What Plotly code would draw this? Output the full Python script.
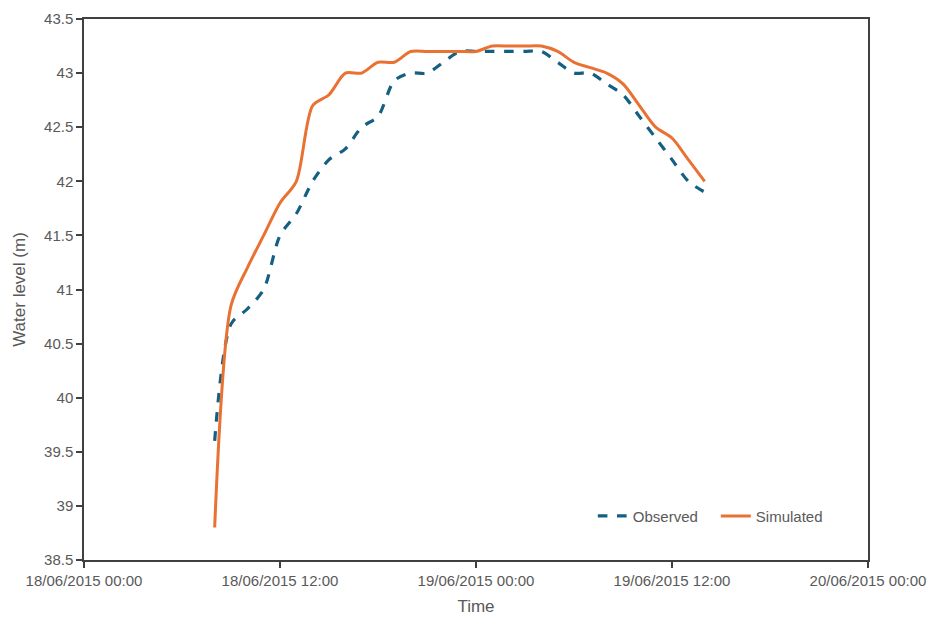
import plotly.graph_objects as go

times = [
    "2015-06-18 08:00", "2015-06-18 09:00", "2015-06-18 10:00", "2015-06-18 11:00",
    "2015-06-18 12:00", "2015-06-18 13:00", "2015-06-18 14:00", "2015-06-18 15:00",
    "2015-06-18 16:00", "2015-06-18 17:00", "2015-06-18 18:00", "2015-06-18 19:00",
    "2015-06-18 20:00", "2015-06-18 21:00", "2015-06-18 22:00", "2015-06-18 23:00",
    "2015-06-19 00:00", "2015-06-19 01:00", "2015-06-19 02:00", "2015-06-19 03:00",
    "2015-06-19 04:00", "2015-06-19 05:00", "2015-06-19 06:00", "2015-06-19 07:00",
    "2015-06-19 08:00", "2015-06-19 09:00", "2015-06-19 10:00", "2015-06-19 11:00",
    "2015-06-19 12:00", "2015-06-19 13:00", "2015-06-19 14:00",
]

observed = [39.6, 40.68, 40.82, 41.0, 41.5, 41.7, 42.0, 42.2, 42.3, 42.5, 42.6,
            42.93, 43.0, 43.0, 43.1, 43.2, 43.2, 43.2, 43.2, 43.2, 43.2, 43.1,
            43.0, 43.0, 42.9, 42.8, 42.6, 42.4, 42.2, 42.0, 41.9]

simulated = [38.8, 40.85, 41.2, 41.5, 41.8, 42.0, 42.7, 42.8, 43.0, 43.0, 43.1,
             43.1, 43.2, 43.2, 43.2, 43.2, 43.2, 43.25, 43.25, 43.25, 43.25, 43.2,
             43.1, 43.05, 43.0, 42.9, 42.7, 42.5, 42.4, 42.2, 42.0]

FONT = "Liberation Sans"
GRAY = "#595959"
AXIS = "#404040"

fig = go.Figure()
fig.add_trace(go.Scatter(
    x=times, y=observed, name="Observed", mode="lines",
    line=dict(color="#156082", width=3.2, dash="dash", shape="spline", smoothing=0.8),
))
fig.add_trace(go.Scatter(
    x=times, y=simulated, name="Simulated", mode="lines",
    line=dict(color="#E97132", width=3, shape="spline", smoothing=0.8),
))

fig.update_layout(
    width=932, height=621,
    margin=dict(l=76, r=72, t=11, b=69, autoexpand=False),
    paper_bgcolor="white", plot_bgcolor="white",
    font=dict(family=FONT, size=15, color=GRAY),
    legend=dict(orientation="h", x=0.649, y=0.081, xanchor="left", yanchor="middle",
                bgcolor="rgba(0,0,0,0)", font=dict(size=15, color=GRAY),
                entrywidth=78, tracegroupgap=0),
    showlegend=True,
)
fig.update_xaxes(
    type="date",
    range=["2015-06-18 00:00", "2015-06-20 00:00"],
    dtick=43200000, tick0="2015-06-18 00:00",
    tickformat="%d/%m/%Y %H:%M",
    showgrid=False, zeroline=False,
    showline=True, linecolor=AXIS, linewidth=1.5, mirror=True,
    ticks="outside", ticklen=6, tickcolor=AXIS, tickwidth=1.5,
    tickfont=dict(size=15, color=GRAY),
    title=dict(text="Time", font=dict(size=17, color=GRAY), standoff=12),
    automargin=False,
)
fig.update_yaxes(
    range=[38.5, 43.5], dtick=0.5,
    showgrid=False, zeroline=False,
    showline=True, linecolor=AXIS, linewidth=1.5, mirror=True,
    ticks="outside", ticklen=6, tickcolor=AXIS, tickwidth=1.5,
    tickfont=dict(size=15, color=GRAY),
    title=dict(text="Water level (m)", font=dict(size=17, color=GRAY), standoff=14),
    automargin=False,
)

fig.write_html("out.html")
